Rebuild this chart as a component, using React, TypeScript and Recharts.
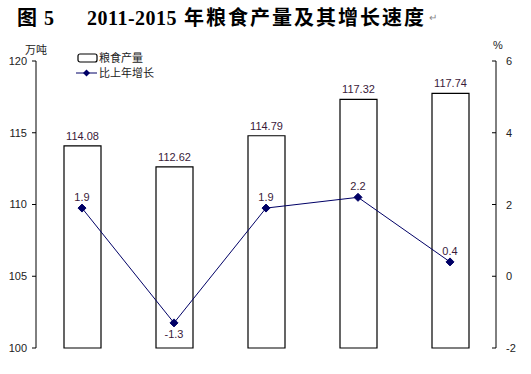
import { ComposedChart, Bar, Line, XAxis, YAxis, LabelList, Legend } from "recharts";

const years = ["2011", "2012", "2013", "2014", "2015"];
const output = [114.08, 112.62, 114.79, 117.32, 117.74];
const growth = [1.9, -1.3, 1.9, 2.2, 0.4];
const leftTicks = [100, 105, 110, 115, 120];
const rightTicks = [-2, 0, 2, 4, 6];

const data = years.map((year, i) => ({ year, output: output[i], growth: growth[i] }));

const W = 531;
const H = 374;
const PLOT_L = 36;
const PLOT_R = 496;
const PLOT_T = 61;
const PLOT_B = 348;
const BAND = (PLOT_R - PLOT_L) / years.length;

const navy = "#000066";
const font = "'Liberation Sans', Arial, sans-serif";
const cjk = "'Noto Sans CJK SC', sans-serif";
const serif = "'Liberation Serif', 'Noto Sans CJK SC', serif";

const Diamond = (props: any) => {
  const { cx, cy } = props;
  if (cx == null || cy == null) return null;
  return <polygon points={`${cx},${cy - 4} ${cx + 4},${cy} ${cx},${cy + 4} ${cx - 4},${cy}`} fill={navy} stroke={navy} />;
};

const XTick = (props: any) => {
  const { x, payload, index } = props;
  return (
    <g>
      {index < years.length - 1 && (
        <line x1={x + BAND / 2} x2={x + BAND / 2} y1={PLOT_B} y2={PLOT_B - 3} stroke="#000" />
      )}
      <text x={x} y={PLOT_B + 21} textAnchor="middle" fontSize={11} fill="#222" fontFamily={font}>
        {payload.value}
      </text>
    </g>
  );
};

const RightTick = (props: any) => {
  const { y, payload } = props;
  return (
    <g>
      <line x1={PLOT_R - 4} x2={PLOT_R} y1={y} y2={y} stroke="#000" />
      <text x={PLOT_R + 10} y={y + 4} fontSize={11} fill="#222" fontFamily={font}>
        {payload.value}
      </text>
    </g>
  );
};

const LegendBox = () => (
  <svg width={120} height={34} style={{ overflow: "visible", display: "block" }}>
    <rect x={3} y={4} width={19} height={8} rx={2} fill="#fff" stroke="#000" strokeWidth={1.2} />
    <text x={24} y={12} fontSize={11} fill="#222" fontFamily={cjk}>粮食产量</text>
    <line x1={1} x2={22} y1={23} y2={23} stroke={navy} />
    <polygon points="11.5,19.5 15,23 11.5,26.5 8,23" fill={navy} />
    <text x={24} y={27} fontSize={11} fill="#222" fontFamily={cjk}>比上年增长</text>
  </svg>
);

const titleBase = {
  position: "absolute" as const,
  top: 5,
  fontFamily: serif,
  fontWeight: "bold" as const,
  fontSize: 20,
  whiteSpace: "pre" as const,
  color: "#000",
  lineHeight: "26px",
};

export default function App() {
  return (
    <div style={{ position: "absolute", left: 0, top: 0, width: W, height: H, background: "#fff" }}>
      <span style={{ ...titleBase, left: 17 }}>图</span>
      <span style={{ ...titleBase, left: 44 }}>5</span>
      <span style={{ ...titleBase, left: 87, letterSpacing: 0.5 }}>2011-2015</span>
      <span style={{ ...titleBase, left: 184, letterSpacing: 2 }}>年粮食产量及其增长速度</span>
      <span style={{ ...titleBase, left: 429, fontSize: 10, fontWeight: "normal", color: "#888" }}>↵</span>
      <div style={{ position: "absolute", left: 25, top: 41, fontSize: 11, fontFamily: cjk, color: "#222" }}>万吨</div>
      <div style={{ position: "absolute", left: 493, top: 39, fontSize: 11, fontFamily: font, color: "#222" }}>%</div>
      <ComposedChart
        width={W}
        height={H}
        data={data}
        margin={{ top: PLOT_T, right: 0, bottom: H - PLOT_B, left: 0 }}
        barCategoryGap={0}
      >
        <XAxis
          dataKey="year"
          stroke="#000"
          tickLine={false}
          tick={<XTick />}
          height={0}
          interval={0}
        />
        <YAxis
          yAxisId="left"
          width={PLOT_L}
          domain={[100, 120]}
          ticks={leftTicks}
          stroke="#000"
          tickSize={4}
          tickMargin={5}
          tick={{ fontSize: 11, fill: "#222", fontFamily: font }}
          interval={0}
        />
        <YAxis
          yAxisId="right"
          orientation="right"
          width={W - PLOT_R}
          domain={[-2, 6]}
          ticks={rightTicks}
          stroke="#000"
          tickLine={false}
          tick={<RightTick />}
          interval={0}
        />
        <Legend
          layout="horizontal"
          verticalAlign="middle"
          align="center"
          content={<LegendBox />}
          wrapperStyle={{ left: 75, top: 50, width: 120, height: 34 }}
        />
        <Bar
          yAxisId="left"
          dataKey="output"
          name="粮食产量"
          fill="#fff"
          stroke="#000"
          strokeWidth={1.2}
          barSize={37}
          isAnimationActive={false}
        >
          <LabelList dataKey="output" position="top" offset={6} fontSize={11} fill="#3a1a3a" fontFamily={font} formatter={(v: any) => Number(v).toFixed(2)} />
        </Bar>
        <Line
          yAxisId="right"
          dataKey="growth"
          name="比上年增长"
          stroke={navy}
          strokeWidth={1}
          dot={<Diamond />}
          activeDot={false}
          isAnimationActive={false}
        >
          <LabelList
            dataKey="growth"
            content={(p: any) => {
              const below = p.value < 0;
              return (
                <text x={p.x} y={below ? p.y + 15 : p.y - 7} textAnchor="middle" fontSize={11} fill="#3a1a3a" fontFamily={font}>
                  {p.value}
                </text>
              );
            }}
          />
        </Line>
      </ComposedChart>
    </div>
  );
}
